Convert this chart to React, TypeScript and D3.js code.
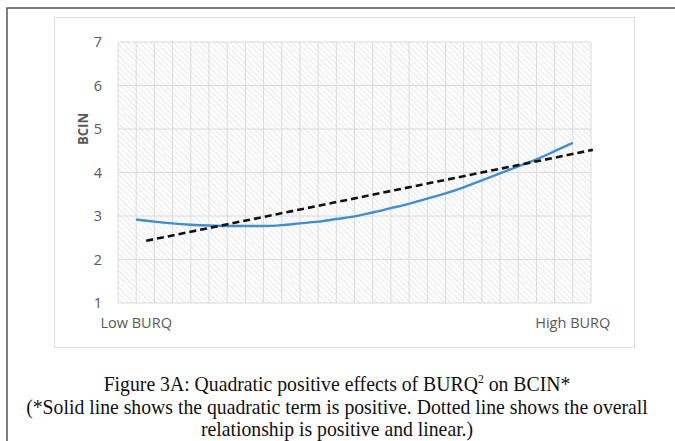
import React from "react";
import { scaleLinear, line, curveMonotoneX, range } from "d3";

// category positions along the x axis (index of gridline), Low BURQ .. High BURQ
const categoryIndex = range(1, 26);
// quadratic (solid) series
const quadValues = [
  2.92, 2.87, 2.83, 2.8, 2.78, 2.77, 2.77, 2.77, 2.79, 2.83, 2.87, 2.93, 2.99,
  3.08, 3.18, 3.28, 3.4, 3.52, 3.66, 3.82, 3.98, 4.14, 4.3, 4.49, 4.68,
];
// linear (dashed) overall relationship
const linearX = [1.55, 26.1];
const linearValues = [2.43, 4.52];

const yTicks = [1, 2, 3, 4, 5, 6, 7];
const xLabels = [
  { idx: 1, text: "Low BURQ" },
  { idx: 25, text: "High BURQ" },
];
const captionLines = [
  "(*Solid line shows the quadratic term is positive. Dotted line shows the overall",
  "relationship is positive and linear.)",
];

const W = 675;
const H = 441;
const plot = { left: 118, right: 591, top: 42, bottom: 303 };

export default function App() {
  const x = scaleLinear().domain([0, 26]).range([plot.left, plot.right]);
  const y = scaleLinear().domain([1, 7]).range([plot.bottom, plot.top]);

  const quadPath = line<number>()
    .x((_, i) => x(categoryIndex[i]))
    .y((d) => y(d))
    .curve(curveMonotoneX)(quadValues);

  const linPath = line<number>()
    .x((_, i) => x(linearX[i]))
    .y((d) => y(d))(linearValues);

  const axisFont = "'Open Sans', 'Liberation Sans', sans-serif";
  const serif = "'Liberation Serif', 'Times New Roman', serif";
  const cx = 337;

  return (
    <svg
      width={W}
      height={H}
      style={{ position: "absolute", left: 0, top: 0, background: "#fff" }}
    >
      <defs>
        <pattern
          id="hatch"
          width={4}
          height={4}
          patternUnits="userSpaceOnUse"
          patternTransform="rotate(-45)"
        >
          <line x1={0} y1={0} x2={0} y2={4} stroke="#dedede" strokeWidth={1.4} />
        </pattern>
      </defs>

      {/* outer frame */}
      <rect x={7} y={8} width={700} height={460} fill="none" stroke="#555" strokeWidth={1.5} />

      {/* chart area */}
      <rect x={54.5} y={17.5} width={580} height={330} fill="#fff" stroke="#dcdcdc" strokeWidth={1} />

      {/* plot area */}
      <rect
        x={plot.left}
        y={plot.top}
        width={plot.right - plot.left}
        height={plot.bottom - plot.top}
        fill="url(#hatch)"
      />

      {/* gridlines */}
      {yTicks.map((t) => (
        <line
          key={"h" + t}
          x1={plot.left}
          x2={plot.right}
          y1={y(t)}
          y2={y(t)}
          stroke="#dadada"
          strokeWidth={1}
        />
      ))}
      {range(0, 27).map((i) => (
        <line
          key={"v" + i}
          x1={x(i)}
          x2={x(i)}
          y1={plot.top}
          y2={plot.bottom}
          stroke="#dadada"
          strokeWidth={1}
        />
      ))}

      {/* y ticks */}
      {yTicks.map((t) => (
        <text
          key={"t" + t}
          x={102}
          y={y(t)}
          dy="0.36em"
          textAnchor="end"
          fontFamily={axisFont}
          fontSize={14.5}
          fill="#595959"
        >
          {t}
        </text>
      ))}

      {/* y axis title */}
      <text
        transform={`translate(88,${(y(4.6) + y(5.4)) / 2}) rotate(-90)`}
        textAnchor="middle"
        fontFamily={axisFont}
        fontSize={14}
        fontWeight="bold"
        fill="#595959"
        textLength={32}
        lengthAdjust="spacingAndGlyphs"
      >
        BCIN
      </text>

      {/* x labels */}
      {xLabels.map((l) => (
        <text
          key={l.text}
          x={x(l.idx)}
          y={328}
          textAnchor="middle"
          fontFamily={axisFont}
          fontSize={14.5}
          fill="#595959"
        >
          {l.text}
        </text>
      ))}

      {/* series */}
      <path d={quadPath ?? ""} fill="none" stroke="#3a8fd9" strokeWidth={2.4} />
      <path
        d={linPath ?? ""}
        fill="none"
        stroke="#111"
        strokeWidth={2.6}
        strokeDasharray="7,4"
      />

      {/* caption (slightly condensed like the source) */}
      <g transform={`translate(${cx},0) scale(0.94,1)`}>
        <text x={0} y={391} textAnchor="middle" fontFamily={serif} fontSize={21} fill="#111">
          Figure 3A: Quadratic positive effects of BURQ
          <tspan dy={-8} fontSize={12.5}>
            2
          </tspan>
          <tspan dy={8}> on BCIN*</tspan>
        </text>
        {captionLines.map((c, i) => (
          <text
            key={i}
            x={0}
            y={414 + i * 22}
            textAnchor="middle"
            fontFamily={serif}
            fontSize={21}
            fill="#111"
          >
            {c}
          </text>
        ))}
      </g>
    </svg>
  );
}
